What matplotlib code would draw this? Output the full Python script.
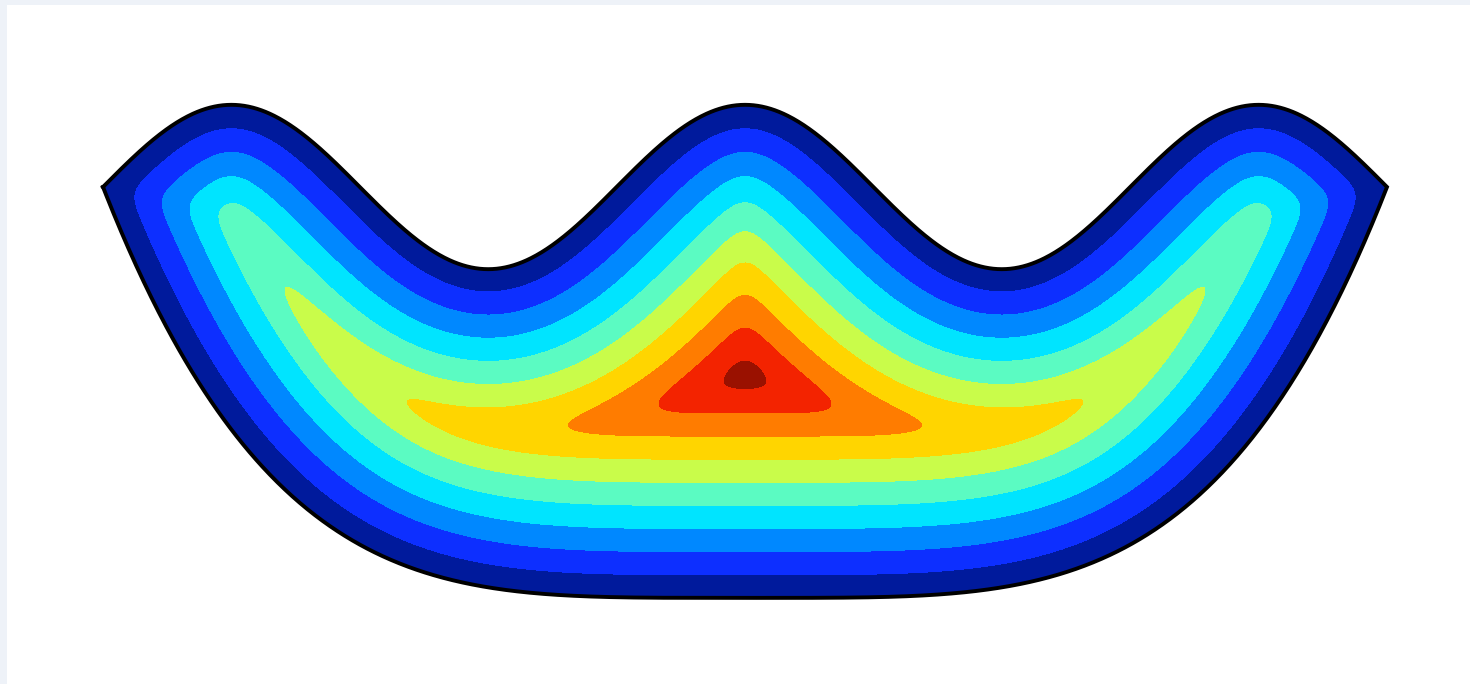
import numpy as np
import matplotlib
matplotlib.use("Agg")
import matplotlib.pyplot as plt
from matplotlib.patches import Rectangle, PathPatch
from matplotlib.path import Path

# domain: wavy top edge, quartic bottom edge, x in [-1, 1]
wave_amp = 0.128
wave_k = 2.5 * np.pi
depth = 0.64

# contour levels (smoothed distance to boundary) and band colours
levels = np.arange(11) * 0.0360
band_colors = ["#001a9c", "#0d2fff", "#0088ff", "#00e4ff", "#5bfbc2",
               "#c9fc4a", "#ffd500", "#ff7c00", "#f32300", "#9a1100"]

px = 1 / 642          # one screen pixel in data units
smooth = 10 * px      # gaussian width used to round off the creases


def top(x):
    return wave_amp * np.cos(wave_k * x)


def bottom(x):
    return -depth * (1 - x ** 4)


# closed boundary polyline
xs = np.linspace(-1, 1, 1201)
bx = np.concatenate([xs, xs[::-1], xs[:1]])
by = np.concatenate([top(xs), bottom(xs[::-1]), top(xs[:1])])
outline = Path(np.column_stack([bx, by]), closed=True)

# cartesian grid round the domain
h = 2 * px
gx = np.arange(-1.08, 1.08, h)
gy = np.arange(-0.72, 0.20, h)
X, Y = np.meshgrid(gx, gy)
pts = np.column_stack([X.ravel(), Y.ravel()])

# signed distance, positive inside
D = np.empty(len(pts))
step = 2000
for i in range(0, len(pts), step):
    p = pts[i:i + step]
    d2 = (p[:, :1] - bx[None, :]) ** 2 + (p[:, 1:] - by[None, :]) ** 2
    D[i:i + step] = np.sqrt(d2.min(axis=1))
inside = outline.contains_points(pts)
D[~inside] *= -1
Z = D.reshape(X.shape)

# separable gaussian blur
r = int(4 * smooth / h)
k = np.exp(-0.5 * (np.arange(-r, r + 1) * h / smooth) ** 2)
k /= k.sum()
Z = np.apply_along_axis(lambda v: np.convolve(v, k, mode="same"), 0, Z)
Z = np.apply_along_axis(lambda v: np.convolve(v, k, mode="same"), 1, Z)

fig = plt.figure(figsize=(14.7, 6.84), dpi=100, facecolor="#eef2f8")
fig.add_artist(Rectangle((7 / 1470, 0), 1, 679 / 684, transform=fig.transFigure,
                         facecolor="white", edgecolor="none", zorder=0))

ax = fig.add_axes([0, 0, 1, 1])
fill_levels = np.r_[Z.min() - 1, levels[1:]]
cs = ax.contourf(X, Y, Z, levels=fill_levels, colors=band_colors)
clip = PathPatch(outline, transform=ax.transData, facecolor="none", edgecolor="none")
ax.add_patch(clip)
cs.set_clip_path(clip)
ax.plot(bx, by, color="black", lw=2.8, solid_joinstyle="miter")
ax.set_xlim(-1 - 103 / 642, -1 + 1367 / 642)
ax.set_ylim(-497 / 642, 187 / 642)
ax.axis("off")

fig.savefig("out.png", dpi=100, facecolor=fig.get_facecolor())
